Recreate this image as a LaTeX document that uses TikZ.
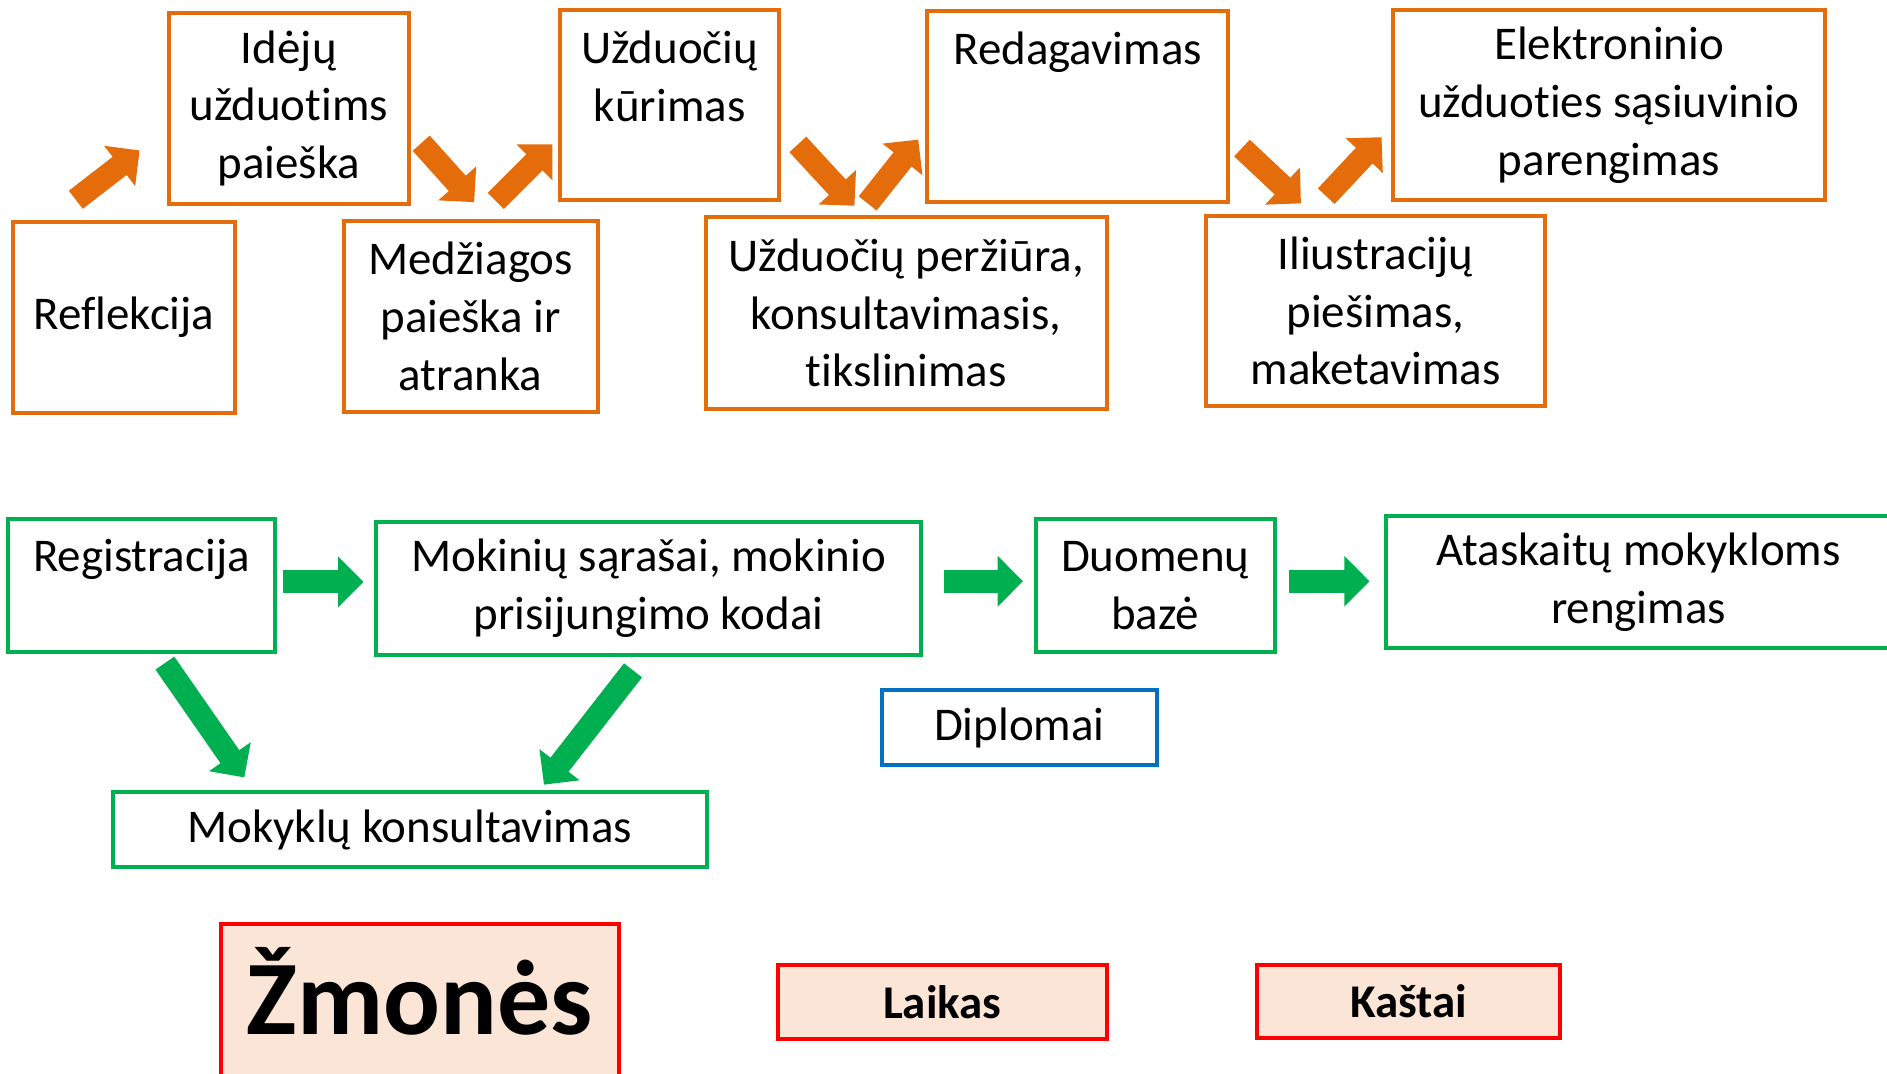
\documentclass[tikz,border=0pt]{standalone}
\usepackage{fontspec}
\setmainfont{Carlito}[Ligatures=NoCommon]
\usetikzlibrary{arrows.meta}
\definecolor{orng}{HTML}{E46C0A}
\definecolor{grn}{HTML}{00B050}
\definecolor{blu}{HTML}{0070C0}
\definecolor{peach}{HTML}{FBE5D6}

\begin{document}
\begin{tikzpicture}[x=1pt, y=-1pt,
    procbox/.style={draw, line width=3.3pt, align=center, inner sep=0pt,
      font=\fontsize{39}{48}\selectfont},
    orbox/.style={procbox, draw=orng},
    grbox/.style={procbox, draw=grn},
    blbox/.style={procbox, draw=blu},
    rdbox/.style={procbox, draw=red, fill=peach, font=\fontsize{39}{46}\selectfont\bfseries},
    oarr/.style={draw=orng, line width=19pt, -{Triangle[width=41pt,length=21pt]}},
    garr/.style={draw=grn, line width=19pt, -{Triangle[width=41pt,length=21pt]}}
  ]
  \useasboundingbox (0,0) rectangle (1568,892);

  \node[orbox, minimum width=185pt, minimum height=159pt] (refl) at (103,264) {Reflekcija};
  \node[orbox, minimum width=199pt, minimum height=159pt] (idej) at (240,90) {Idėjų\\užduotims\\paieška};
  \node[orbox, minimum width=211pt, minimum height=159pt] (medz) at (391,263) {Medžiagos\\paieška ir\\atranka};
  \node[orbox, minimum width=182pt, minimum height=158pt] (kur) at (556.5,87.5) {Užduočių\\kūrimas\\[-14pt]\strut};
  \node[orbox, minimum width=333pt, minimum height=159pt] (perz) at (753,260) {Užduočių peržiūra,\\konsultavimasis,\\tikslinimas};
  \node[orbox, minimum width=250pt, minimum height=158pt] (red) at (895.5,88.5) {Redagavimas\\\strut\\[-14pt]\strut};
  \node[orbox, minimum width=281pt, minimum height=158pt] (ilius) at (1143,258.5) {Iliustracijų\\piešimas,\\maketavimas};
  \node[orbox, minimum width=359pt, minimum height=158pt] (elek) at (1337,87.5) {Elektroninio\\užduoties sąsiuvinio\\parengimas};

  \node[grbox, minimum width=222pt, minimum height=110pt] (reg) at (117.5,486.5) {Registracija\\[-12pt]\strut};
  \node[grbox, minimum width=453pt, minimum height=111pt] (mok) at (539,489) {Mokinių sąrašai, mokinio\\prisijungimo kodai};
  \node[grbox, minimum width=199pt, minimum height=110pt] (duom) at (960,486.5) {Duomenų\\bazė};
  \node[grbox, minimum width=420pt, minimum height=110pt] (atas) at (1361.5,483.5) {Ataskaitų mokykloms\\rengimas};
  \node[grbox, minimum width=494pt, minimum height=62pt] (konsul) at (340.5,689.5) {Mokyklų konsultavimas};
  \node[blbox, minimum width=229pt, minimum height=62pt] (dipl) at (847,604.5) {Diplomai};

  \node[rdbox, minimum width=331pt, minimum height=126pt] (zmon) at (349,831) {};
  \node[font=\fontsize{88}{92}\selectfont\bfseries] (zmontxt) at (349,824) {Žmonės};
  \node[rdbox, minimum width=273pt, minimum height=62pt] (laik) at (783,832.5) {Laikas};
  \node[rdbox, minimum width=252pt, minimum height=61pt] (kast) at (1170.5,832) {Kaštai};

  \coordinate (o1s) at (63,166);   \coordinate (o1e) at (116,125);
  \coordinate (o2s) at (350,119);  \coordinate (o2e) at (394,168);
  \coordinate (o3s) at (412,167);  \coordinate (o3e) at (459,120);
  \coordinate (o4s) at (663,120);  \coordinate (o4e) at (710,171);
  \coordinate (o5s) at (721,169);  \coordinate (o5e) at (763,116);
  \coordinate (o6s) at (1032,123); \coordinate (o6e) at (1081,169);
  \coordinate (o7s) at (1102,163); \coordinate (o7e) at (1148,114);
  \foreach \i in {1,...,7}
    \draw[oarr] (o\i s) -- (o\i e);

  \coordinate (g1s) at (235,483.5);  \coordinate (g1e) at (302,483.5);
  \coordinate (g2s) at (784,483);    \coordinate (g2e) at (850,483);
  \coordinate (g3s) at (1071,483);   \coordinate (g3e) at (1138,483);
  \coordinate (g4s) at (137,551);    \coordinate (g4e) at (203,646);
  \coordinate (g5s) at (526,557);    \coordinate (g5e) at (452,652);
  \foreach \i in {1,...,5}
    \draw[garr] (g\i s) -- (g\i e);
\end{tikzpicture}
\end{document}
